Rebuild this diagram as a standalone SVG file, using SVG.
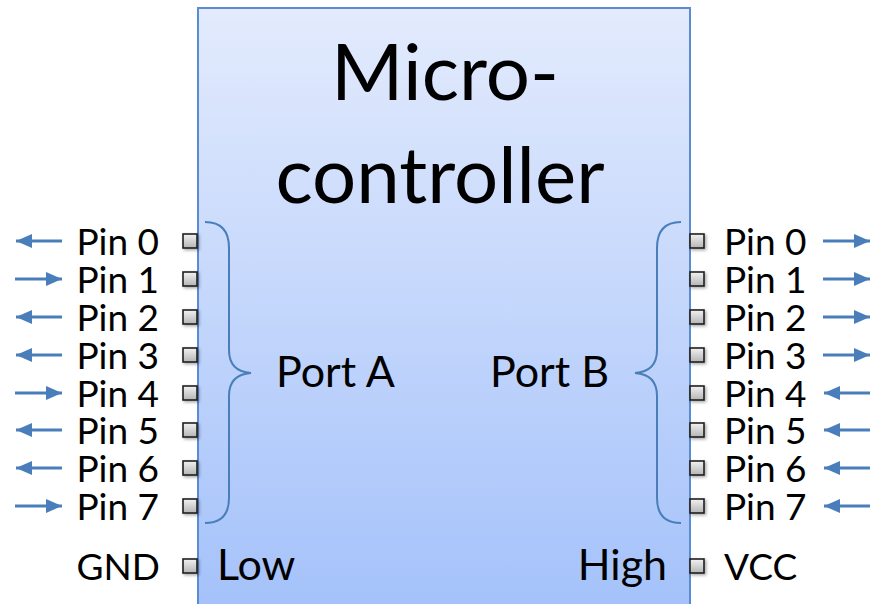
<svg xmlns="http://www.w3.org/2000/svg" width="871" height="604" viewBox="0 0 871 604">
  <defs>
    <linearGradient id="boxGrad" x1="0" y1="0" x2="0" y2="1">
      <stop offset="0" stop-color="#e3ebfd"/>
      <stop offset="1" stop-color="#a3c1fa"/>
    </linearGradient>
    <linearGradient id="pinGrad" x1="0" y1="0" x2="0" y2="1">
      <stop offset="0" stop-color="#f2f2f2"/>
      <stop offset="1" stop-color="#b4b4b4"/>
    </linearGradient>
    <filter id="shadow" x="-50%" y="-50%" width="200%" height="200%">
      <feDropShadow dx="1.5" dy="1.5" stdDeviation="1.5" flood-color="#000" flood-opacity="0.35"/>
    </filter>
    <marker id="ah" viewBox="0 0 16 14" refX="16" refY="7" markerWidth="16" markerHeight="14" markerUnits="userSpaceOnUse" orient="auto">
      <path d="M0,0 L16,7 L0,14 Z" fill="#4a7ebb"/>
    </marker>
    <style>
      .pin { fill: url(#pinGrad); stroke: #1e1e1e; stroke-width: 1.6; filter: url(#shadow); }
      .lbl { font-family: Lato, "Liberation Sans", sans-serif; font-size: 37px; fill: #000; }
      .big { font-family: Lato, "Liberation Sans", sans-serif; font-size: 43px; fill: #000; }
      .title { font-family: Lato, "Liberation Sans", sans-serif; font-size: 78px; fill: #000; text-anchor: middle; }
      .arr { stroke: #4a7ebb; stroke-width: 3; fill: none; marker-end: url(#ah); }
      .brace { stroke: #4a7ebb; stroke-width: 2; fill: none; }
      .end { text-anchor: end; }
    </style>
  </defs>

  <g id="microcontroller">
    <rect x="198" y="8" width="492" height="610" fill="url(#boxGrad)" stroke="#5b8bd0" stroke-width="2"/>
    <text class="title" x="445" y="100">Micro-</text>
    <text class="title" x="440" y="203">controller</text>
  </g>

  <g id="portA">
    <path class="brace" d="M205,222 C222,222 229,232 229,248 L229,350 C229,364 236,372 251,373 C236,374 229,382 229,396 L229,498 C229,514 222,523 205,523"/>
    <text class="big" x="276" y="387">Port A</text>
  </g>

  <g id="portB">
    <path class="brace" d="M681,222 C664,222 657,232 657,248 L657,350 C657,364 650,372 635,373 C650,374 657,382 657,396 L657,498 C657,514 664,523 681,523"/>
    <text class="big" x="490" y="387">Port B</text>
  </g>

  <g id="leftPins">
    <rect class="pin" x="183" y="234" width="14" height="14"/>
    <rect class="pin" x="183" y="272" width="14" height="14"/>
    <rect class="pin" x="183" y="310" width="14" height="14"/>
    <rect class="pin" x="183" y="348" width="14" height="14"/>
    <rect class="pin" x="183" y="386" width="14" height="14"/>
    <rect class="pin" x="183" y="423" width="14" height="14"/>
    <rect class="pin" x="183" y="461" width="14" height="14"/>
    <rect class="pin" x="183" y="499" width="14" height="14"/>
    <text class="lbl end" x="159" y="255">Pin 0</text>
    <text class="lbl end" x="159" y="293">Pin 1</text>
    <text class="lbl end" x="159" y="331">Pin 2</text>
    <text class="lbl end" x="159" y="369">Pin 3</text>
    <text class="lbl end" x="159" y="407">Pin 4</text>
    <text class="lbl end" x="159" y="444">Pin 5</text>
    <text class="lbl end" x="159" y="482">Pin 6</text>
    <text class="lbl end" x="159" y="520">Pin 7</text>
  </g>

  <g id="rightPins">
    <rect class="pin" x="690" y="234" width="14" height="14"/>
    <rect class="pin" x="690" y="272" width="14" height="14"/>
    <rect class="pin" x="690" y="310" width="14" height="14"/>
    <rect class="pin" x="690" y="348" width="14" height="14"/>
    <rect class="pin" x="690" y="386" width="14" height="14"/>
    <rect class="pin" x="690" y="423" width="14" height="14"/>
    <rect class="pin" x="690" y="461" width="14" height="14"/>
    <rect class="pin" x="690" y="499" width="14" height="14"/>
    <text class="lbl" x="724" y="255">Pin 0</text>
    <text class="lbl" x="724" y="293">Pin 1</text>
    <text class="lbl" x="724" y="331">Pin 2</text>
    <text class="lbl" x="724" y="369">Pin 3</text>
    <text class="lbl" x="724" y="407">Pin 4</text>
    <text class="lbl" x="724" y="444">Pin 5</text>
    <text class="lbl" x="724" y="482">Pin 6</text>
    <text class="lbl" x="724" y="520">Pin 7</text>
  </g>

  <g id="power">
    <rect class="pin" x="183" y="559" width="14" height="14"/>
    <rect class="pin" x="690" y="559" width="14" height="14"/>
    <text class="lbl end" x="160" y="580">GND</text>
    <text class="big" x="217" y="580">Low</text>
    <text class="big end" x="667" y="580">High</text>
    <text class="lbl" x="724" y="580">VCC</text>
  </g>

  <g id="connectors">
    <line class="arr" x1="62" y1="241" x2="16" y2="241"/>
    <line class="arr" x1="15" y1="279" x2="62" y2="279"/>
    <line class="arr" x1="62" y1="317" x2="16" y2="317"/>
    <line class="arr" x1="62" y1="355" x2="16" y2="355"/>
    <line class="arr" x1="15" y1="393" x2="62" y2="393"/>
    <line class="arr" x1="62" y1="430" x2="16" y2="430"/>
    <line class="arr" x1="62" y1="468" x2="16" y2="468"/>
    <line class="arr" x1="15" y1="506" x2="62" y2="506"/>
    <line class="arr" x1="823" y1="241" x2="870" y2="241"/>
    <line class="arr" x1="823" y1="279" x2="870" y2="279"/>
    <line class="arr" x1="823" y1="317" x2="870" y2="317"/>
    <line class="arr" x1="823" y1="355" x2="870" y2="355"/>
    <line class="arr" x1="870" y1="393" x2="824" y2="393"/>
    <line class="arr" x1="870" y1="430" x2="824" y2="430"/>
    <line class="arr" x1="870" y1="468" x2="824" y2="468"/>
    <line class="arr" x1="870" y1="506" x2="824" y2="506"/>
  </g>
</svg>
